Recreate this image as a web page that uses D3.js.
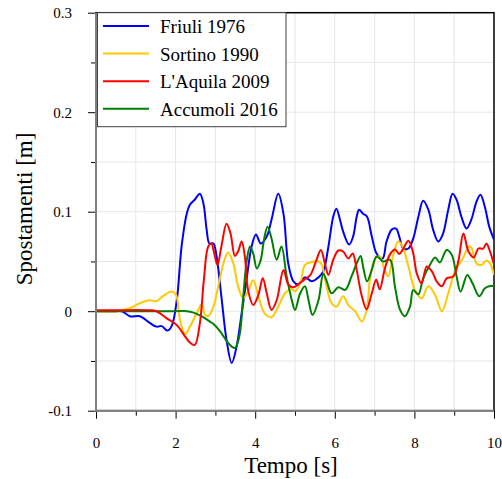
<!DOCTYPE html>
<html>
<head>
<meta charset="utf-8">
<script src="https://cdn.jsdelivr.net/npm/d3@7"></script>
<style>
  body { margin: 0; background: #fff; }
  svg { display: block; }
  svg text { font-family: "Liberation Serif", "Times New Roman", serif; }
</style>
</head>
<body>
<svg id="chart" width="502" height="479"></svg>
<script>
// tick labels
let xTicks = [0, 2, 4, 6, 8, 10];
let xMinor = [1, 3, 5, 7, 9];
let yTicks = [-0.1, 0, 0.1, 0.2, 0.3];
let yMinor = [-0.05, 0.05, 0.15, 0.25];

let seriesNames = ['Friuli 1976', 'Sortino 1990', "L'Aquila 2009", 'Accumoli 2016'];

// Friuli 1976
let friuliT = [0, 0.5, 0.65, 0.85, 1.1, 1.36, 1.52, 1.65, 1.79, 1.9, 2.03, 2.15, 2.28, 2.36, 2.48, 2.61, 2.7, 2.78, 2.85, 2.95,
  3.03, 3.15, 3.28, 3.41, 3.53, 3.66, 3.78, 3.91, 4.02, 4.14, 4.29, 4.41, 4.58, 4.71, 4.83, 4.96, 5.08, 5.25, 5.42, 5.59,
  5.71, 5.84, 5.96, 6.04, 6.13, 6.21, 6.36, 6.46, 6.55, 6.61, 6.71, 6.81, 6.93, 7.05, 7.2, 7.3, 7.43, 7.54, 7.62, 7.72,
  7.85, 7.97, 8.1, 8.22, 8.35, 8.47, 8.6, 8.72, 8.85, 8.96, 9.06, 9.18, 9.31, 9.43, 9.56, 9.66, 9.77, 9.88, 10];
let friuliV = [0, 0, 0, -0.005, -0.005, -0.012, -0.0155, -0.015, -0.0195, -0.015, 0.011, 0.065, 0.098, 0.107, 0.112, 0.118, 0.108, 0.082, 0.068, 0.068,
  0.055, 0.015, -0.029, -0.052, -0.036, -0.002, 0.031, 0.065, 0.077, 0.068, 0.075, 0.092, 0.118, 0.098, 0.048, 0.030, 0.027, 0.034, 0.030, 0.034,
  0.040, 0.065, 0.095, 0.103, 0.092, 0.080, 0.067, 0.075, 0.095, 0.102, 0.098, 0.095, 0.075, 0.058, 0.053, 0.070, 0.082, 0.083, 0.075, 0.063,
  0.063, 0.073, 0.095, 0.111, 0.102, 0.082, 0.070, 0.078, 0.102, 0.118, 0.112, 0.095, 0.083, 0.092, 0.110, 0.117, 0.105, 0.085, 0.072];

// Sortino 1990
let sortinoT = [0, 0.5, 0.85, 1.1, 1.36, 1.52, 1.69, 1.9, 2.01, 2.11, 2.24, 2.36, 2.53, 2.66, 2.74, 2.82, 2.95, 3.07, 3.2, 3.32,
  3.45, 3.57, 3.7, 3.82, 3.95, 4.08, 4.25, 4.41, 4.58, 4.75, 4.92, 5.0, 5.13, 5.25, 5.38, 5.59, 5.67, 5.79, 5.92, 6.04,
  6.21, 6.34, 6.51, 6.68, 6.8, 6.88, 7.0, 7.13, 7.25, 7.34, 7.46, 7.59, 7.68, 7.85, 8.01, 8.18, 8.35, 8.52, 8.69, 8.85,
  9.03, 9.2, 9.37, 9.43, 9.56, 9.68, 9.81, 9.9, 10];
let sortinoV = [0, 0, 0.003, 0.008, 0.011, 0.010, 0.0154, 0.0197, 0.0164, -0.0087, -0.0228, -0.0155, -0.002, 0.0073, -0.0037, -0.005, 0.0046, 0.0247, 0.048, 0.059,
  0.048, 0.025, 0.013, 0.02, 0.031, 0.0147, -0.003, -0.006, 0.0046, 0.018, 0.022, 0.020, 0.028, 0.0465, 0.049, 0.05, 0.047, 0.025, 0.008, 0.0046,
  0.015, 0.006, 0, -0.0104, 0.0013, 0.031, 0.0516, 0.055, 0.0415, 0.035, 0.055, 0.07, 0.0667, 0.045, 0.0214, 0.013, 0.025, 0.0164, 0, 0.018,
  0.0415, 0.0516, 0.065, 0.064, 0.048, 0.0465, 0.051, 0.048, 0.0365];

// L'Aquila 2009
let aquilaT = [0, 0.5, 1.27, 1.52, 1.77, 2.03, 2.24, 2.36, 2.48, 2.61, 2.71, 2.82, 2.9, 2.96, 3.05, 3.15, 3.28, 3.38, 3.49, 3.57,
  3.66, 3.74, 3.82, 3.95, 4.08, 4.19, 4.29, 4.41, 4.54, 4.71, 4.83, 4.96, 5.08, 5.21, 5.38, 5.54, 5.65, 5.75, 5.84, 5.96,
  6.09, 6.21, 6.34, 6.45, 6.55, 6.68, 6.8, 6.93, 7.04, 7.13, 7.25, 7.38, 7.51, 7.62, 7.72, 7.85, 7.96, 8.06, 8.18, 8.31,
  8.44, 8.56, 8.69, 8.81, 8.98, 9.11, 9.23, 9.36, 9.49, 9.61, 9.73, 9.81, 9.9, 10];
let aquilaV = [0.001, 0.001, 0.001, 0, -0.007, -0.014, -0.0255, -0.0315, -0.034, -0.012, 0.0315, 0.065, 0.068, 0.06, 0.0465, 0.065, 0.088, 0.078, 0.0556, 0.06,
  0.07, 0.055, 0.0214, 0.0063, 0.0164, 0.033, 0.018, 0.0013, 0.011, 0.0415, 0.027, 0.024, 0.027, 0.031, 0.036, 0.0516, 0.0616, 0.048, 0.0365, 0.0516,
  0.061, 0.06, 0.053, 0.058, 0.0415, 0.015, 0.002, 0.018, 0.0315, 0.022, 0.0415, 0.0566, 0.062, 0.0576, 0.063, 0.0707, 0.06, 0.038, 0.028, 0.045,
  0.04, 0.03, 0.025, 0.033, 0.035, 0.0516, 0.078, 0.06, 0.054, 0.063, 0.063, 0.068, 0.06, 0.047];

// Accumoli 2016
let accumoliT = [0, 1, 2, 2.28, 2.45, 2.65, 2.86, 2.98, 3.15, 3.32, 3.49, 3.6, 3.7, 3.79, 3.87, 3.95, 4.04, 4.14, 4.22, 4.31,
  4.41, 4.54, 4.66, 4.79, 4.92, 5.0, 5.13, 5.25, 5.34, 5.44, 5.59, 5.71, 5.79, 5.92, 6.09, 6.26, 6.42, 6.55, 6.65, 6.71,
  6.81, 6.93, 7.05, 7.22, 7.39, 7.51, 7.64, 7.76, 7.89, 7.97, 8.1, 8.22, 8.39, 8.52, 8.64, 8.81, 8.94, 9.06, 9.16, 9.33,
  9.46, 9.63, 9.77, 9.9, 10];
let accumoliV = [0, 0, 0, 0, -0.0014, -0.005, -0.0104, -0.0138, -0.022, -0.032, -0.037, -0.0255, 0.015, 0.0516, 0.065, 0.058, 0.043, 0.0516, 0.0716, 0.085,
  0.073, 0.0516, 0.065, 0.035, 0.011, 0.0013, 0.018, 0.025, 0.011, -0.0037, 0.011, 0.0375, 0.031, 0.018, 0.024, 0.0214, 0.035, 0.048, 0.0556, 0.045,
  0.030, 0.0415, 0.055, 0.05, 0.0516, 0.025, 0.0013, -0.005, 0.0046, 0.0214, 0.017, 0.033, 0.0465, 0.054, 0.049, 0.0616, 0.0566, 0.035, 0.0197, 0.0365,
  0.028, 0.015, 0.023, 0.0254, 0.025];

let colours = ['#0000ff', '#ffc800', '#ff0000', '#008000'];
let serif = '"Liberation Serif", "Times New Roman", serif';

let svg = d3.select('#chart');
let plotL = 96, plotR = 494, plotT = 12.7, plotB = 410.7;

let x = d3.scaleLinear().domain([0, 10]).range([plotL, plotR]);
let y = d3.scaleLinear().domain([-0.1, 0.3]).range([plotB, plotT]);

// grid
let grid = svg.append('g').attr('stroke', '#e6e6e6').attr('stroke-width', 1);
grid.selectAll('.gx').data(d3.range(1, 10)).enter().append('line')
  .attr('x1', d => x(d)).attr('x2', d => x(d)).attr('y1', plotT).attr('y2', plotB);
grid.selectAll('.gy').data(yTicks.concat(yMinor).filter(d => d > -0.1 && d < 0.3)).enter().append('line')
  .attr('y1', d => y(d)).attr('y2', d => y(d)).attr('x1', plotL).attr('x2', plotR);

// frame (top / right black)
svg.append('rect').attr('x', plotL).attr('y', plotT).attr('width', plotR - plotL).attr('height', plotB - plotT)
  .attr('fill', 'none').attr('stroke', '#000').attr('stroke-width', 1.5);

// lines
svg.append('clipPath').attr('id', 'clip').append('rect')
  .attr('x', plotL).attr('y', plotT).attr('width', plotR - plotL).attr('height', plotB - plotT);

let series = [
  {name: seriesNames[0], t: friuliT, v: friuliV, c: colours[0]},
  {name: seriesNames[1], t: sortinoT, v: sortinoV, c: colours[1]},
  {name: seriesNames[3], t: accumoliT, v: accumoliV, c: colours[3]},
  {name: seriesNames[2], t: aquilaT, v: aquilaV, c: colours[2]}
];

let line = d3.line()
  .x(d => x(d[0]))
  .y(d => y(d[1]))
  .curve(d3.curveCatmullRom.alpha(0.5));

svg.append('g').attr('clip-path', 'url(#clip)')
  .selectAll('path').data(series).enter().append('path')
  .attr('d', s => line(d3.zip(s.t, s.v)))
  .attr('fill', 'none')
  .attr('stroke', s => s.c)
  .attr('stroke-width', 2)
  .attr('stroke-linejoin', 'round');

// axes
let fmt = d => d === 0 ? '0' : String(d);

svg.append('g').attr('transform', 'translate(' + plotL + ',0)')
  .call(d3.axisLeft(y).tickValues(yTicks).tickSize(8).tickPadding(16).tickFormat(fmt));
svg.append('g').attr('transform', 'translate(' + plotL + ',0)')
  .call(d3.axisLeft(y).tickValues(yMinor).tickSize(5).tickFormat(''));

svg.append('g').attr('transform', 'translate(0,' + plotB + ')')
  .call(d3.axisBottom(x).tickValues(xTicks).tickSize(8).tickPadding(19).tickFormat(fmt));
svg.append('g').attr('transform', 'translate(0,' + plotB + ')')
  .call(d3.axisBottom(x).tickValues(xMinor).tickSize(5).tickFormat(''));

svg.selectAll('.domain').remove();
svg.selectAll('.tick line').attr('stroke', '#000').attr('stroke-width', 1);
svg.selectAll('.tick text').attr('font-family', serif).attr('font-size', 15).attr('fill', '#000');

// gray left / bottom axis lines
svg.append('line').attr('x1', plotL).attr('x2', plotL).attr('y1', plotT).attr('y2', plotB + 1)
  .attr('stroke', '#808080').attr('stroke-width', 2);
svg.append('line').attr('x1', plotL - 1).attr('x2', plotR).attr('y1', plotB).attr('y2', plotB)
  .attr('stroke', '#808080').attr('stroke-width', 2);

// axis titles
svg.append('text').attr('x', 291).attr('y', 473).attr('text-anchor', 'middle')
  .attr('font-family', serif).attr('font-size', 23).text('Tempo [s]');
svg.append('text').attr('transform', 'translate(32,209) rotate(-90)').attr('text-anchor', 'middle')
  .attr('font-family', serif).attr('font-size', 23).text('Spostamenti [m]');

// legend
let legend = svg.append('g');
legend.append('rect').attr('x', 97.5).attr('y', 12.7).attr('width', 188.5).attr('height', 114)
  .attr('fill', '#fff').attr('stroke', '#404040').attr('stroke-width', 1);
let ly = d3.scalePoint().domain(seriesNames).range([26, 108.7]);
let items = legend.selectAll('.item').data(seriesNames).enter().append('g');
items.append('line').attr('x1', 103).attr('x2', 149)
  .attr('y1', d => ly(d)).attr('y2', d => ly(d))
  .attr('stroke', (d, i) => colours[i]).attr('stroke-width', 2);
items.append('text').attr('x', 160).attr('y', d => ly(d) + 7)
  .attr('font-family', serif).attr('font-size', 19).text(d => d);
</script>
</body>
</html>
